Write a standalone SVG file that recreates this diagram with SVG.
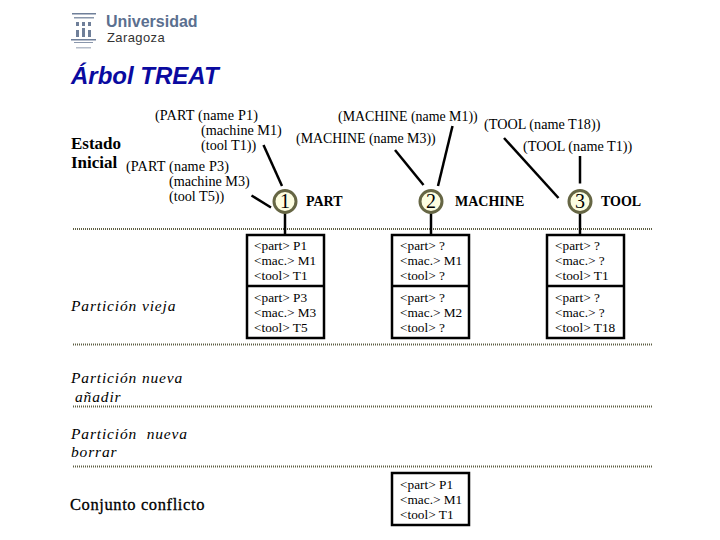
<svg xmlns="http://www.w3.org/2000/svg" width="720" height="540" viewBox="0 0 720 540">
<style>
text{font-family:"Liberation Serif","Times New Roman",serif;fill:#000}
.s{font-size:14.2px}
.m{font-size:13.9px}
.b{font-size:14px;font-weight:bold}
.bl{font-size:17px;font-weight:bold}
.i{font-size:15.5px;font-style:italic;letter-spacing:.85px}
.c{font-size:13.3px}
.n{font-size:20px;text-anchor:middle}
.dot{stroke:#5f5f44;stroke-width:2;stroke-dasharray:1 1;fill:none}
.con{stroke:#000;stroke-width:2.5;fill:none}
.box{fill:#fff;stroke:#000;stroke-width:2.5}
.circ{fill:#fdfde0;stroke:#666644;stroke-width:3}
</style>
<rect width="720" height="540" fill="#fff"/>
<g id="logo">
<g fill="#6f7f99">
<rect x="72" y="13" width="24" height="1.5"/><rect x="74" y="17" width="20" height="1.5" fill="#8a97ac"/>
<rect x="76" y="22" width="3" height="4"/><rect x="82" y="22" width="3" height="4"/><rect x="88" y="22" width="3" height="4"/>
<rect x="76" y="30" width="3" height="7"/><rect x="82" y="28" width="3" height="9"/><rect x="88" y="30" width="3" height="7"/>
<rect x="71" y="39" width="25" height="1.5"/><rect x="74" y="42" width="19" height="1" fill="#8a97ac"/>
<rect x="76" y="47" width="15" height="1.5" fill="#b5bdca"/>
</g>
<text x="106" y="27" style="font-family:'Liberation Sans',sans-serif;font-size:16px;font-weight:bold;fill:#5b6f8f">Universidad</text>
<text x="107" y="42" style="font-family:'Liberation Sans',sans-serif;font-size:13px;letter-spacing:.4px;fill:#333">Zaragoza</text>
</g>
<text id="title" x="71" y="84" style="font-family:'Liberation Sans',sans-serif;font-size:24px;font-weight:bold;font-style:italic;fill:#0a0aa0">Árbol TREAT</text>
<g id="separators">
<line class="dot" x1="73" y1="229" x2="652" y2="229"/>
<line class="dot" x1="73" y1="344.5" x2="652" y2="344.5"/>
<line class="dot" x1="73" y1="406.5" x2="652" y2="406.5"/>
<line class="dot" x1="73" y1="466.5" x2="652" y2="466.5"/>
</g>
<g id="connectors">
<line class="con" x1="263.5" y1="145" x2="282" y2="186"/>
<line class="con" x1="251.5" y1="195.5" x2="271" y2="207.5"/>
<line class="con" x1="395" y1="150" x2="423.5" y2="185"/>
<line class="con" x1="452.5" y1="126" x2="438" y2="186"/>
<line class="con" x1="504" y1="138" x2="558.5" y2="198"/>
<line class="con" x1="580" y1="156" x2="580" y2="183.5"/>
<line class="con" x1="285" y1="213" x2="285" y2="235"/>
<line class="con" x1="431" y1="213" x2="431" y2="235"/>
<line class="con" x1="580" y1="213" x2="580" y2="235"/>
</g>
<g id="state-text">
<text class="s" x="155" y="120" style="letter-spacing:.15px">(PART (name P1)</text>
<text class="s" x="201" y="135">(machine  M1)</text>
<text class="s" x="201" y="150">(tool T1))</text>
<text class="s" x="126" y="171" style="letter-spacing:.15px">(PART (name P3)</text>
<text class="s" x="169" y="186">(machine  M3)</text>
<text class="s" x="169" y="201">(tool T5))</text>
<text class="m" x="338" y="121">(MACHINE (name M1))</text>
<text class="m" x="296" y="143">(MACHINE (name M3))</text>
<text class="s" x="484" y="129">(TOOL (name T18))</text>
<text class="s" x="523" y="151">(TOOL (name T1))</text>
<text class="bl" x="71" y="148.5">Estado</text>
<text class="bl" x="71" y="167.5">Inicial</text>
</g>
<g id="node-1"><circle class="circ" cx="285" cy="201.5" r="11"/><text class="n" x="285" y="208">1</text><text class="b" x="306" y="206">PART</text></g>
<g id="node-2"><circle class="circ" cx="431" cy="201.5" r="11"/><text class="n" x="431" y="208">2</text><text class="b" x="455" y="206">MACHINE</text></g>
<g id="node-3"><circle class="circ" cx="580" cy="201.5" r="11"/><text class="n" x="580" y="208">3</text><text class="b" x="601" y="206">TOOL</text></g>
<g id="box-1">
<rect class="box" x="247" y="235" width="77" height="103"/><line class="con" x1="247" y1="286" x2="324" y2="286"/>
<text class="c" x="254" y="250">&lt;part&gt; P1</text><text class="c" x="254" y="265">&lt;mac.&gt; M1</text><text class="c" x="254" y="280">&lt;tool&gt; T1</text>
<text class="c" x="254" y="302">&lt;part&gt; P3</text><text class="c" x="254" y="317">&lt;mac.&gt; M3</text><text class="c" x="254" y="332">&lt;tool&gt; T5</text>
</g>
<g id="box-2">
<rect class="box" x="392" y="235" width="77" height="103"/><line class="con" x1="392" y1="286" x2="469" y2="286"/>
<text class="c" x="400" y="250">&lt;part&gt; ?</text><text class="c" x="400" y="265">&lt;mac.&gt; M1</text><text class="c" x="400" y="280">&lt;tool&gt; ?</text>
<text class="c" x="400" y="302">&lt;part&gt; ?</text><text class="c" x="400" y="317">&lt;mac.&gt; M2</text><text class="c" x="400" y="332">&lt;tool&gt; ?</text>
</g>
<g id="box-3">
<rect class="box" x="547" y="235" width="77" height="103"/><line class="con" x1="547" y1="286" x2="624" y2="286"/>
<text class="c" x="555" y="250">&lt;part&gt; ?</text><text class="c" x="555" y="265">&lt;mac.&gt; ?</text><text class="c" x="555" y="280">&lt;tool&gt; T1</text>
<text class="c" x="555" y="302">&lt;part&gt; ?</text><text class="c" x="555" y="317">&lt;mac.&gt; ?</text><text class="c" x="555" y="332">&lt;tool&gt; T18</text>
</g>
<g id="box-conflict">
<rect class="box" x="392" y="473" width="77" height="52"/>
<text class="c" x="400" y="489">&lt;part&gt; P1</text><text class="c" x="400" y="504">&lt;mac.&gt; M1</text><text class="c" x="400" y="519">&lt;tool&gt; T1</text>
</g>
<g id="row-labels">
<text class="i" x="71" y="311">Partición vieja</text>
<text class="i" x="71" y="383">Partición nueva</text>
<text class="i" x="75" y="402">añadir</text>
<text class="i" x="71" y="439">Partición&#160; nueva</text>
<text class="i" x="71" y="457">borrar</text>
<text x="70" y="510" style="font-size:16.5px;letter-spacing:.6px;stroke:#000;stroke-width:.3">Conjunto conflicto</text>
</g>
</svg>
